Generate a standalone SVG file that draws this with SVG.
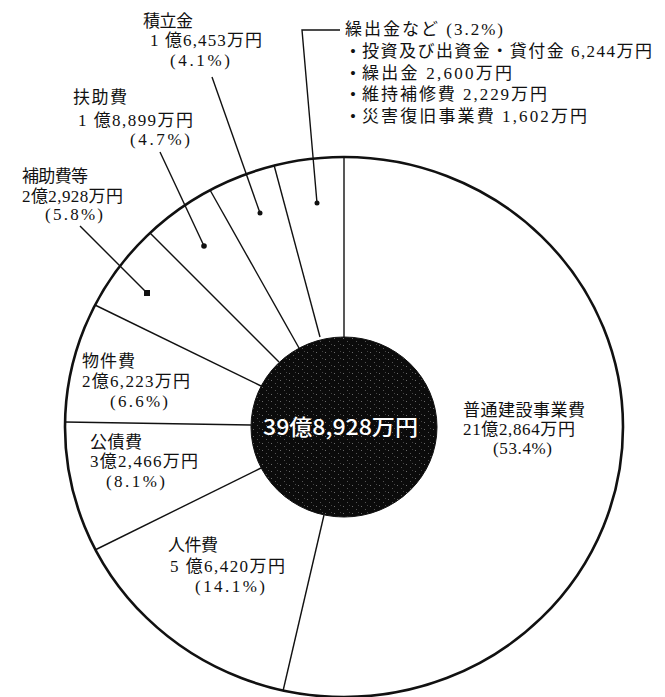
<svg xmlns="http://www.w3.org/2000/svg" width="665" height="697" viewBox="0 0 665 697">
<style>
.lbl{font-family:"Liberation Serif","Noto Sans CJK JP",serif;font-size:17px;fill:#111}
.ln{stroke:#111;stroke-width:1.4;fill:none}
.outer{stroke:#111;stroke-width:2.6;fill:#fff}
.ctr{font-family:"Noto Sans CJK JP","Liberation Sans",sans-serif;font-size:22px;font-weight:500;fill:#fff}
</style>
<defs>
<pattern id="speck" width="9" height="7" patternUnits="userSpaceOnUse">
<rect width="9" height="7" fill="#0b0b0b"/>
<rect x="1" y="2" width="1" height="1" fill="#6a6a6a"/>
<rect x="5" y="5" width="1" height="1" fill="#555"/>
<rect x="7" y="1" width="1" height="1" fill="#444"/>
</pattern>
</defs>
<rect width="665" height="697" fill="#fff"/>
<g id="pie">
<ellipse class="outer" cx="344" cy="427" rx="279" ry="270"/>
</g>
<g id="connectors">
<line class="ln" x1="344" y1="157" x2="344" y2="337"/>
<line class="ln" x1="283" y1="691" x2="324" y2="515"/>
<line class="ln" x1="95" y1="550" x2="261" y2="468"/>
<line class="ln" x1="65" y1="422" x2="251" y2="425"/>
<line class="ln" x1="95" y1="305" x2="261" y2="386"/>
<line class="ln" x1="150" y1="233" x2="279" y2="362"/>
<line class="ln" x1="210" y1="190" x2="299" y2="348"/>
<line class="ln" x1="274" y1="165" x2="320" y2="337"/>
<polyline class="ln" points="340,30 302,30 317,203"/>
<line class="ln" x1="212" y1="77" x2="260" y2="213"/>
<line class="ln" x1="160" y1="152" x2="204" y2="246"/>
<line class="ln" x1="80" y1="226" x2="147" y2="293"/>
<circle cx="317" cy="203" r="2.5" fill="#111"/>
<circle cx="260" cy="213" r="2.5" fill="#111"/>
<circle cx="204" cy="246" r="2.8" fill="#111"/>
<rect x="144" y="290" width="6" height="6" fill="#111"/>
</g>
<g id="center">
<ellipse cx="344" cy="427" rx="93" ry="90" fill="url(#speck)" stroke="#111" stroke-width="1"/>
<text class="ctr" x="263" y="435" textLength="155" lengthAdjust="spacingAndGlyphs">39億8,928万円</text>
</g>
<g id="node-futsu">
<text class="lbl" x="463" y="416" textLength="122">普通建設事業費</text>
<text class="lbl" x="463" y="435" textLength="112">21億2,864万円</text>
<text class="lbl" x="493" y="454" textLength="59">(53.4%)</text>
</g>
<g id="node-jinken">
<text class="lbl" x="168" y="551" textLength="50">人件費</text>
<text class="lbl" x="170" y="572" textLength="115">5 億6,420万円</text>
<text class="lbl" x="195" y="592" textLength="70">(14.1%)</text>
</g>
<g id="node-kosai">
<text class="lbl" x="90" y="448" textLength="52">公債費</text>
<text class="lbl" x="90" y="467" textLength="108">3億2,466万円</text>
<text class="lbl" x="106" y="487" textLength="59">(8.1%)</text>
</g>
<g id="node-bukken">
<text class="lbl" x="82" y="367" textLength="53">物件費</text>
<text class="lbl" x="82" y="387" textLength="108">2億6,223万円</text>
<text class="lbl" x="110" y="407" textLength="58">(6.6%)</text>
</g>
<g id="node-hojo">
<text class="lbl" x="22" y="182" textLength="66">補助費等</text>
<text class="lbl" x="22" y="202" textLength="101">2億2,928万円</text>
<text class="lbl" x="45" y="220" textLength="58">(5.8%)</text>
</g>
<g id="node-fujo">
<text class="lbl" x="73" y="103" textLength="54">扶助費</text>
<text class="lbl" x="78" y="126" textLength="115">1 億8,899万円</text>
<text class="lbl" x="130" y="145" textLength="60">(4.7%)</text>
</g>
<g id="node-tsumitate">
<text class="lbl" x="143" y="27" textLength="50">積立金</text>
<text class="lbl" x="150" y="46" textLength="112">1 億6,453万円</text>
<text class="lbl" x="170" y="66" textLength="60">(4.1%)</text>
</g>
<g id="node-kuridashi">
<text class="lbl" x="345" y="35" textLength="158">繰出金など (3.2%)</text>
<text class="lbl" x="350" y="57">•</text>
<text class="lbl" x="362" y="57" textLength="290">投資及び出資金・貸付金 6,244万円</text>
<text class="lbl" x="350" y="79">•</text>
<text class="lbl" x="362" y="79" textLength="150">繰出金 2,600万円</text>
<text class="lbl" x="350" y="100">•</text>
<text class="lbl" x="362" y="100" textLength="185">維持補修費 2,229万円</text>
<text class="lbl" x="350" y="122">•</text>
<text class="lbl" x="362" y="122" textLength="225">災害復旧事業費 1,602万円</text>
</g>
</svg>
